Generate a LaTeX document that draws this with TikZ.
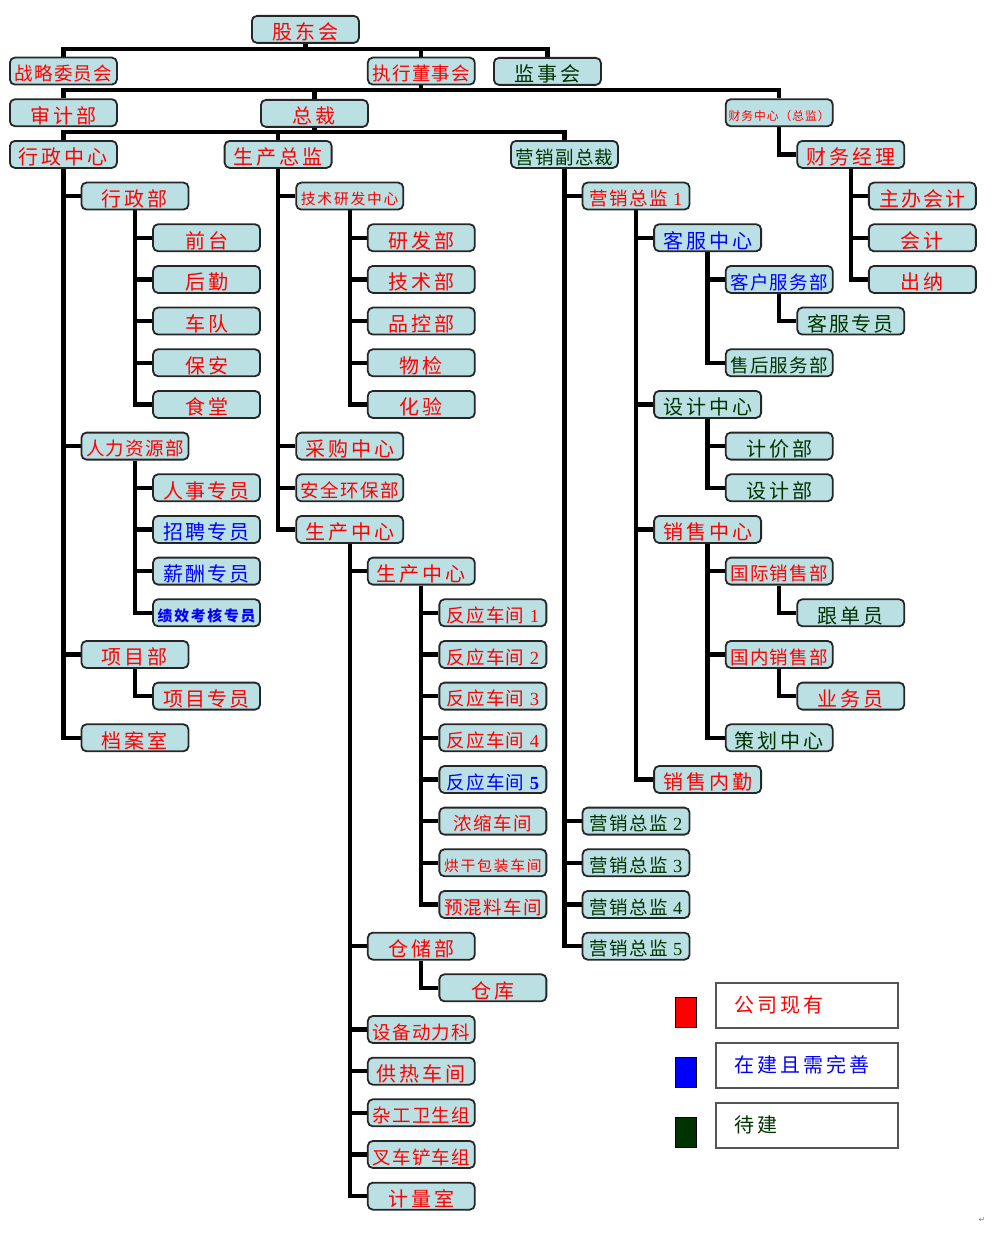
\documentclass[tikz,border=0pt]{standalone}
\usepackage{fontspec}
\setmainfont{Noto Sans CJK SC}
\newfontfamily\fBig[LetterSpace=15]{Noto Sans CJK SC}
\newfontfamily\fBigb[LetterSpace=10]{Noto Sans CJK SC}
\newfontfamily\fMid[LetterSpace=7]{Noto Sans CJK SC}
\newfontfamily\fSm[LetterSpace=12]{Noto Sans CJK SC}
\newfontfamily\fTiny[LetterSpace=8]{Noto Sans CJK SC}
\newfontfamily\fDig{Liberation Serif}
\newfontfamily\fDV{DejaVu Sans}
\definecolor{boxfill}{HTML}{BBE0E3}
\definecolor{boxline}{HTML}{262626}
\definecolor{tred}{HTML}{FF0000}
\definecolor{tblue}{HTML}{0000FF}
\definecolor{tgreen}{HTML}{003300}
\definecolor{leggray}{HTML}{555555}
\pgfdeclarelayer{bg}
\pgfsetlayers{bg,main}
\tikzset{
  box/.style={draw=boxline, line width=1.8pt, fill=boxfill, rounded corners=5pt,
    minimum width=107pt, minimum height=27pt, inner sep=0pt},
  fbig/.style={font=\fBig\fontsize{20}{22}\selectfont},
  big/.style={fbig, text height=20.6pt, text depth=0pt},
  bigb/.style={font=\fBigb\fontsize{20}{22}\selectfont, text height=20.6pt, text depth=0pt},
  mid/.style={font=\fMid\fontsize{18.5}{20}\selectfont, text height=19.5pt, text depth=0pt},
  sm/.style={font=\fSm\fontsize{14.8}{16}\selectfont, text height=16.8pt, text depth=0pt},
  smb/.style={font=\fSm\bfseries\fontsize{14.8}{16}\selectfont, text height=16.8pt, text depth=0pt},
  tiny/.style={font=\fTiny\fontsize{11.8}{13}\selectfont, text height=14.6pt, text depth=0pt},
  r/.style={text=tred}, b/.style={text=tblue}, g/.style={text=tgreen},
  conn/.style={line width=4.3pt, draw=black, line join=miter},
  legsq/.style={draw=black, line width=1.3pt, minimum width=21pt, minimum height=30pt, inner sep=0pt, anchor=north west},
  legbox/.style={draw=leggray, line width=1.6pt, fill=white, minimum height=45pt,
    text width=144pt, inner xsep=19pt, inner ysep=0pt, align=left, anchor=north west, fbig}
}
\newcommand\orgbox[5]{\node[box,#4,anchor=north west] (#1) at ({9+71.58*#2},{15+41.67*#3}) {#5};}
\newcommand\kids[2]{\foreach \kk in {#2} {\draw[conn] (#1.south) |- (\kk.west);}}
\begin{document}
\begin{tikzpicture}[x=1pt,y=-1pt]
\useasboundingbox (0,0) rectangle (991,1236);
% top levels
\node[box,big,r,anchor=north west] (gd) at (251,15) {股东会};
\orgbox{zl}{0}{1}{mid,r}{战略委员会}
\orgbox{zx}{5}{1}{mid,r}{执行董事会}
\node[box,big,g,anchor=north west] (js) at (493,57) {监事会};
\orgbox{sj}{0}{2}{big,r}{审计部}
\node[box,big,r,anchor=north west] (zc) at (260,99) {总裁};
\orgbox{cwzx}{10}{2}{tiny,r}{财务中心（总监）}
\orgbox{xzzx}{0}{3}{big,r}{行政中心}
\orgbox{sczj}{3}{3}{big,r}{生产总监}
\orgbox{yxfz}{7}{3}{mid,g}{营销副总裁}
\orgbox{cwjl}{11}{3}{big,r}{财务经理}
% row 4
\orgbox{xzb}{1}{4}{big,r}{行政部}
\orgbox{jsyf}{4}{4}{sm,r}{技术研发中心}
\orgbox{yx1}{8}{4}{mid,r}{营销总监 {\fDig 1}}
\orgbox{zbkj}{12}{4}{bigb,r}{主办会计}
% row 5
\orgbox{qt}{2}{5}{big,r}{前台}
\orgbox{yfb}{5}{5}{big,r}{研发部}
\orgbox{kfzx}{9}{5}{big,b}{客服中心}
\orgbox{kj}{12}{5}{big,r}{会计}
% row 6
\orgbox{hq}{2}{6}{big,r}{后勤}
\orgbox{jsb}{5}{6}{big,r}{技术部}
\orgbox{khfw}{10}{6}{mid,b}{客户服务部}
\orgbox{cn}{12}{6}{big,r}{出纳}
% row 7
\orgbox{cd}{2}{7}{big,r}{车队}
\orgbox{pkb}{5}{7}{big,r}{品控部}
\orgbox{kfzy}{11}{7}{bigb,g}{客服专员}
% row 8
\orgbox{ba}{2}{8}{big,r}{保安}
\orgbox{wj}{5}{8}{big,r}{物检}
\orgbox{shfw}{10}{8}{mid,g}{售后服务部}
% row 9
\orgbox{st}{2}{9}{big,r}{食堂}
\orgbox{hy}{5}{9}{big,r}{化验}
\orgbox{sjzx}{9}{9}{big,g}{设计中心}
% row 10
\orgbox{rlzy}{1}{10}{mid,r}{人力资源部}
\orgbox{cgzx}{4}{10}{big,r}{采购中心}
\orgbox{jjb}{10}{10}{big,g}{计价部}
% row 11
\orgbox{rszy}{2}{11}{bigb,r}{人事专员}
\orgbox{aqhb}{4}{11}{mid,r}{安全环保部}
\orgbox{sjb}{10}{11}{big,g}{设计部}
% row 12
\orgbox{zpzy}{2}{12}{bigb,b}{招聘专员}
\orgbox{sczx}{4}{12}{big,r}{生产中心}
\orgbox{xszx}{9}{12}{big,r}{销售中心}
% row 13
\orgbox{xczy}{2}{13}{bigb,b}{薪酬专员}
\orgbox{sczxb}{5}{13}{big,r}{生产中心}
\orgbox{gjxs}{10}{13}{mid,r}{国际销售部}
% row 14
\orgbox{jxkh}{2}{14}{smb,b}{绩效考核专员}
\orgbox{fya}{6}{14}{mid,r}{反应车间 {\fDig 1}}
\orgbox{gdy}{11}{14}{big,g}{跟单员}
% row 15
\orgbox{xmb}{1}{15}{big,r}{项目部}
\orgbox{fyb}{6}{15}{mid,r}{反应车间 {\fDig 2}}
\orgbox{gnxs}{10}{15}{mid,r}{国内销售部}
% row 16
\orgbox{xmzy}{2}{16}{bigb,r}{项目专员}
\orgbox{fyc}{6}{16}{mid,r}{反应车间 {\fDig 3}}
\orgbox{ywy}{11}{16}{big,r}{业务员}
% row 17
\orgbox{das}{1}{17}{big,r}{档案室}
\orgbox{fyd}{6}{17}{mid,r}{反应车间 {\fDig 4}}
\orgbox{chzx}{10}{17}{big,g}{策划中心}
% row 18
\orgbox{fye}{6}{18}{mid,b}{反应车间 {\fDig\bfseries 5}}
\orgbox{xsnq}{9}{18}{big,r}{销售内勤}
% row 19-22
\orgbox{nscj}{6}{19}{mid,r}{浓缩车间}
\orgbox{yxb}{8}{19}{mid,g}{营销总监 {\fDig 2}}
\orgbox{hgbz}{6}{20}{sm,r}{烘干包装车间}
\orgbox{yxc}{8}{20}{mid,g}{营销总监 {\fDig 3}}
\orgbox{yhl}{6}{21}{mid,r}{预混料车间}
\orgbox{yxd}{8}{21}{mid,g}{营销总监 {\fDig 4}}
\orgbox{ccb}{5}{22}{big,r}{仓储部}
\orgbox{yxe}{8}{22}{mid,g}{营销总监 {\fDig 5}}
\orgbox{ck}{6}{23}{big,r}{仓库}
\orgbox{sbdl}{5}{24}{mid,r}{设备动力科}
\orgbox{grcj}{5}{25}{big,r}{供热车间}
\orgbox{zgws}{5}{26}{mid,r}{杂工卫生组}
\orgbox{ccz}{5}{27}{mid,r}{叉车铲车组}
\orgbox{jls}{5}{28}{big,r}{计量室}
% legend
\node[legsq, fill=tred] (lsqr) at (674.6,997) {};
\node[legsq, fill=tblue] (lsqb) at (674.6,1057) {};
\node[legsq, fill=tgreen] (lsqg) at (674.6,1117) {};
\node[legbox, text=tred] (lbr) at (715,982) {公司现有};
\node[legbox, text=tblue] (lbb) at (715,1042) {在建且需完善};
\node[legbox, text=tgreen] (lbg) at (715,1102) {待建};
\node[text=gray, font=\fDV\fontsize{8}{8}\selectfont, inner sep=0pt] (ret) at (982,1220) {↵};
% connectors
\begin{pgfonlayer}{bg}
\fill[white] (0,0) rectangle (991,1236);
\coordinate (busA) at (0,49);
\coordinate (busB) at (0,90);
\coordinate (busC) at (0,132);
\draw[conn] (gd.south) -- (gd.south |- busA);
\draw[conn] (zl.north) -- (zl.north |- busA) -- (js.north |- busA) -- (js.north);
\draw[conn] (zx.north) -- (zx.north |- busA);
\draw[conn] (zx.south) -- (zx.south |- busB);
\draw[conn] (sj.north) -- (sj.north |- busB) -- (cwzx.north |- busB) -- (cwzx.north);
\draw[conn] (zc.north) -- (zc.north |- busB);
\draw[conn] (zc.south) -- (zc.south |- busC);
\draw[conn] (xzzx.north) -- (xzzx.north |- busC) -- (yxfz.north |- busC) -- (yxfz.north);
\draw[conn] (sczj.north) -- (sczj.north |- busC);
\kids{cwzx}{cwjl}
\kids{cwjl}{zbkj,kj,cn}
\kids{xzzx}{xzb,rlzy,xmb,das}
\kids{xzb}{qt,hq,cd,ba,st}
\kids{rlzy}{rszy,zpzy,xczy,jxkh}
\kids{xmb}{xmzy}
\kids{sczj}{jsyf,cgzx,aqhb,sczx}
\kids{jsyf}{yfb,jsb,pkb,wj,hy}
\kids{sczx}{sczxb,ccb,sbdl,grcj,zgws,ccz,jls}
\kids{sczxb}{fya,fyb,fyc,fyd,fye,nscj,hgbz,yhl}
\kids{ccb}{ck}
\kids{yxfz}{yx1,yxb,yxc,yxd,yxe}
\kids{yx1}{kfzx,sjzx,xszx,xsnq}
\kids{kfzx}{khfw,shfw}
\kids{khfw}{kfzy}
\kids{sjzx}{jjb,sjb}
\kids{xszx}{gjxs,gnxs,chzx}
\kids{gjxs}{gdy}
\kids{gnxs}{ywy}
\end{pgfonlayer}
\end{tikzpicture}
\end{document}
